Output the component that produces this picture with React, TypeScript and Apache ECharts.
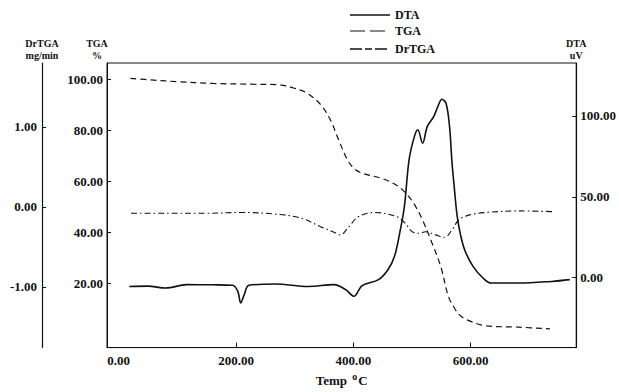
import React, { useEffect, useRef } from "react";
import * as echarts from "echarts";

const xTickValues = [200, 400, 600];
const xLabelValues = [0, 200, 400, 600];
const tgaTicks = [20, 40, 60, 80, 100];
const drtgaTicks = [-1, 0, 1];
const dtaTicks = [0, 50, 100];
const legendNames = ["DTA", "TGA", "DrTGA"];

// TGA (%) vs Temp (°C)
const tgaData: [number, number][] = [
  [20, 100.3], [60, 99.6], [99, 99.0], [161, 98.3], [228, 98.0], [272, 97.8],
  [300, 96.4], [322, 94.4], [345, 89.8], [361, 84.0], [375, 76.2], [390, 68.4],
  [401, 65.1], [415, 63.2], [448, 61.2], [473, 58.6], [490, 55.3], [504, 51.0],
  [518, 44.9], [532, 37.1], [549, 26.7], [562, 15.0], [571, 11.0], [580, 8.0],
  [593, 5.9], [627, 3.5], [682, 3.0], [735, 2.3],
];

// DTA (uV) vs Temp (°C)
const dtaData: [number, number][] = [
  [18, -5.4], [50, -5.2], [80, -6.4], [116, -4.3], [160, -4.4], [194, -4.7],
  [203, -8.4], [208, -15.6], [214, -10.5], [222, -4.7], [267, -3.9], [323, -5.4],
  [367, -4.3], [387, -7.4], [401, -11.5], [415, -4.9], [443, -1.2], [459, 4.9],
  [470, 13.1], [479, 27.6], [487, 44], [495, 72.8], [504, 87.2], [510, 91.4],
  [518, 83.1], [526, 93.4], [537, 99.6], [544, 105.7], [551, 110.3], [558, 107.8],
  [564, 93.4], [568, 72], [572, 56], [577, 38], [583, 26], [590, 17], [604, 7.0],
  [621, -0.2], [635, -3.3], [682, -3.3], [738, -2.3], [769, -1.2],
];

// DrTGA (mg/min) vs Temp (°C)
const drtgaData: [number, number][] = [
  [21, -0.08], [80, -0.08], [144, -0.08], [211, -0.07], [267, -0.09], [311, -0.14],
  [345, -0.25], [365, -0.31], [378, -0.35], [392, -0.25], [409, -0.12], [437, -0.07],
  [473, -0.12], [488, -0.2], [500, -0.31], [512, -0.33], [523, -0.31], [540, -0.35],
  [556, -0.38], [568, -0.29], [579, -0.17], [598, -0.1], [627, -0.07], [682, -0.05],
  [743, -0.06],
];

const FONT = "Liberation Serif";
const INK = "#111";

export default function App() {
  const ref = useRef<HTMLDivElement>(null);

  useEffect(() => {
    if (!ref.current) return;
    const chart = echarts.init(ref.current, null, { renderer: "svg" });
    const labelStyle = {
      color: INK,
      fontFamily: FONT,
      fontWeight: "bold" as const,
      fontSize: 13,
    };
    const nameStyle = {
      color: INK,
      fontFamily: FONT,
      fontWeight: "bold" as const,
      fontSize: 10,
      lineHeight: 12,
    };
    const fmt = (v: number) => v.toFixed(2);

    const legendY = [15, 31, 49];
    const legendDash: (number[] | null)[] = [null, [15, 5], [12, 3, 7, 3]];
    const legendWidth = [1.6, 1.2, 1.4];
    const legendGraphics: any[] = [];
    legendNames.forEach((name, i) => {
      legendGraphics.push({
        type: "line",
        shape: { x1: 350, y1: legendY[i], x2: 390, y2: legendY[i] },
        style: { stroke: INK, lineWidth: legendWidth[i], lineDash: legendDash[i] || undefined },
      });
      legendGraphics.push({
        type: "text",
        x: 395,
        y: legendY[i],
        style: {
          text: name,
          fill: INK,
          font: `bold 12px "${FONT}"`,
          verticalAlign: "middle",
          align: "left",
        },
      });
    });

    chart.setOption({
      animation: false,
      backgroundColor: "#fff",
      graphic: legendGraphics,
      grid: {
        left: 107,
        right: 34,
        top: 63,
        bottom: 44,
        show: true,
        borderColor: INK,
        borderWidth: 1,
      },
      xAxis: {
        type: "value",
        min: -20,
        max: 780,
        name: "Temp {sup|o}C",
        nameLocation: "middle",
        nameGap: 21,
        nameTextStyle: {
          ...labelStyle,
          rich: {
            sup: { ...labelStyle, fontSize: 10, verticalAlign: "top", padding: [0, 1, 8, 2] },
          },
        },
        axisLine: { show: true, onZero: false, lineStyle: { color: INK, width: 1 } },
        axisTick: { show: true, inside: true, length: 5, customValues: xTickValues, lineStyle: { color: INK } },
        axisLabel: { ...labelStyle, margin: 6, customValues: xLabelValues, formatter: fmt },
        splitLine: { show: false },
      },
      yAxis: [
        {
          type: "value",
          position: "left",
          min: -5,
          max: 106.3,
          name: "TGA\n%",
          nameLocation: "end",
          nameGap: 2,
          nameTextStyle: { ...nameStyle, align: "center", padding: [0, 20, 0, 0] },
          axisLine: { show: true, onZero: false, lineStyle: { color: INK, width: 1 } },
          axisTick: { show: true, inside: true, length: 4, customValues: tgaTicks, lineStyle: { color: INK } },
          axisLabel: { ...labelStyle, margin: 4, customValues: tgaTicks, formatter: fmt },
          splitLine: { show: false },
        },
        {
          type: "value",
          position: "left",
          offset: 65,
          min: -1.76,
          max: 1.8,
          name: "DrTGA\nmg/min",
          nameLocation: "end",
          nameGap: 2,
          nameTextStyle: { ...nameStyle, align: "center" },
          axisLine: { show: true, onZero: false, lineStyle: { color: INK, width: 1.2 } },
          axisTick: { show: true, inside: true, length: 4, customValues: drtgaTicks, lineStyle: { color: INK } },
          axisLabel: { ...labelStyle, margin: 5, customValues: drtgaTicks, formatter: fmt },
          splitLine: { show: false },
        },
        {
          type: "value",
          position: "right",
          min: -43.2,
          max: 132.7,
          name: "DTA\nuV",
          nameLocation: "end",
          nameGap: 2,
          nameTextStyle: { ...nameStyle, align: "center" },
          axisLine: { show: true, onZero: false, lineStyle: { color: INK, width: 1.2 } },
          axisTick: { show: true, inside: true, length: 4, customValues: dtaTicks, lineStyle: { color: INK } },
          axisLabel: { ...labelStyle, margin: 4, customValues: dtaTicks, formatter: fmt },
          splitLine: { show: false },
        },
      ],
      series: [
        {
          name: "DTA",
          type: "line",
          yAxisIndex: 2,
          data: dtaData,
          symbol: "none",
          smooth: 0.35,
          lineStyle: { color: INK, width: 1.6, type: "solid" },
          itemStyle: { color: INK },
        },
        {
          name: "TGA",
          type: "line",
          yAxisIndex: 0,
          data: tgaData,
          symbol: "none",
          smooth: 0.35,
          lineStyle: { color: INK, width: 1.2, type: [6, 4] },
          itemStyle: { color: INK },
        },
        {
          name: "DrTGA",
          type: "line",
          yAxisIndex: 1,
          data: drtgaData,
          symbol: "none",
          smooth: 0.35,
          lineStyle: { color: INK, width: 1.1, type: [6, 3, 1.5, 3] },
          itemStyle: { color: INK },
        },
      ],
    });
    return () => chart.dispose();
  }, []);

  return (
    <div
      ref={ref}
      style={{ position: "fixed", left: 0, top: 0, width: 619, height: 392, background: "#fff" }}
    />
  );
}
